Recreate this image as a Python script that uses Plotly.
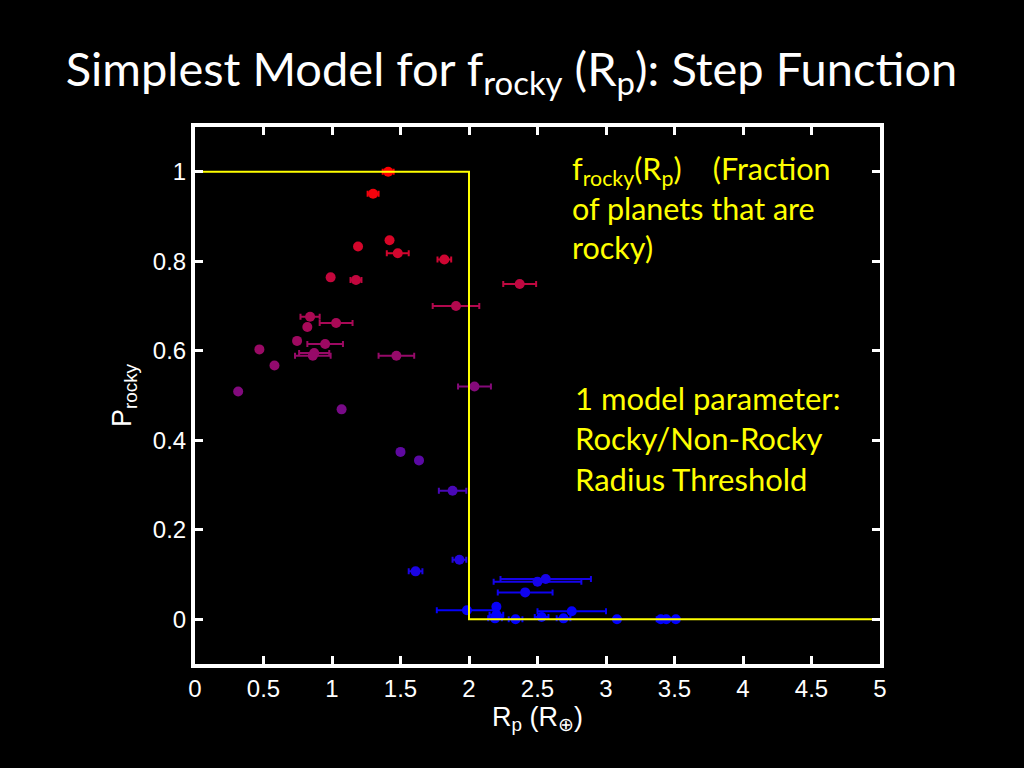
import plotly.graph_objects as go

# Planet radius (Earth radii), probability rocky, horizontal error
radius = [1.41, 1.30, 1.19, 1.42, 1.48, 1.82, 0.99, 1.175, 1.905, 2.37,
          0.84, 1.03, 0.82, 0.745, 0.95, 0.47, 0.87, 0.86, 1.47, 0.58,
          0.315, 2.04, 1.07, 1.50, 1.635, 1.88, 1.93, 1.61, 2.56, 2.50,
          2.41, 1.985, 2.20, 2.75, 2.20, 2.19, 2.34, 2.53, 2.69, 3.08,
          3.40, 3.44, 3.51]
p_rocky = [1.00, 0.951, 0.833, 0.847, 0.818, 0.804, 0.764, 0.758, 0.700, 0.749,
           0.676, 0.662, 0.653, 0.622, 0.615, 0.603, 0.595, 0.589, 0.589, 0.567,
           0.509, 0.520, 0.469, 0.374, 0.355, 0.287, 0.133, 0.107, 0.090, 0.084,
           0.060, 0.020, 0.028, 0.018, 0.010, 0.002, 0.000, 0.005, 0.002, 0.000,
           0.000, 0.000, 0.000]
radius_err = [0.04, 0.04, 0.0, 0.0, 0.08, 0.05, 0.0, 0.04, 0.17, 0.12,
              0.07, 0.12, 0.0, 0.0, 0.13, 0.0, 0.11, 0.13, 0.13, 0.0,
              0.0, 0.12, 0.0, 0.0, 0.02, 0.10, 0.05, 0.05, 0.33, 0.32,
              0.20, 0.22, 0.02, 0.25, 0.05, 0.05, 0.05, 0.05, 0.05, 0.0,
              0.03, 0.0, 0.0]

step_x = [0, 2, 2, 5]
step_y = [1, 1, 0, 0]

x_ticks = [0, 0.5, 1, 1.5, 2, 2.5, 3, 3.5, 4, 4.5, 5]
x_tick_labels = ["0", "0.5", "1", "1.5", "2", "2.5", "3", "3.5", "4", "4.5", "5"]
y_ticks = [0, 0.2, 0.4, 0.6, 0.8, 1]
y_tick_labels = ["0", "0.2", "0.4", "0.6", "0.8", "1"]

fig = go.Figure()

for x, p, e in zip(radius, p_rocky, radius_err):
    col = "rgb(%d,%d,%d)" % (round(255 * p), round(10 * (1 - p) * p * 4), round(255 * (1 - p)))
    fig.add_trace(go.Scatter(
        x=[x], y=[p], mode="markers",
        marker=dict(color=col, size=10, line=dict(width=0)),
        error_x=dict(type="data", array=[e], visible=e > 0, color=col,
                     thickness=2, width=3),
        showlegend=False, hoverinfo="skip"))

fig.add_trace(go.Scatter(x=step_x, y=step_y, mode="lines",
                         line=dict(color="#ffff00", width=2),
                         showlegend=False, hoverinfo="skip"))

tick_font = dict(family="Liberation Sans Narrow, Arial Narrow, Liberation Sans",
                 size=24, color="white")
label_font = dict(family="Liberation Sans Narrow, Arial Narrow, Liberation Sans",
                  size=27, color="white")
text_font = "Lato, Open Sans, sans-serif"

fig.update_layout(
    width=1024, height=768,
    paper_bgcolor="black", plot_bgcolor="black",
    margin=dict(l=195, r=144, t=127, b=104),
    title=dict(text="Simplest Model for f<sub>rocky</sub> (R<sub>p</sub>): Step Function",
               x=(68 + 955) / 2 / 1024, xanchor="center", y=0.91, yanchor="middle",
               font=dict(family=text_font, size=47, color="white")),
    xaxis=dict(range=[0, 5], tickvals=x_ticks, ticktext=x_tick_labels,
               showgrid=False, zeroline=False, showline=True, linecolor="white",
               linewidth=4, mirror="allticks", ticks="inside", ticklen=8,
               tickwidth=3, tickcolor="white", tickfont=tick_font,
               title=dict(text="R<sub>p</sub> (R<sub>⊕</sub>)", font=label_font, standoff=0)),
    yaxis=dict(range=[-0.1, 1.1], tickvals=y_ticks, ticktext=y_tick_labels,
               showgrid=False, zeroline=False, showline=True, linecolor="white",
               linewidth=4, mirror="allticks", ticks="inside", ticklen=8,
               tickwidth=3, tickcolor="white", tickfont=tick_font,
               title=dict(text="P<sub>rocky</sub>", font=label_font, standoff=14)),
    annotations=[
        dict(text="f<sub>rocky</sub>(R<sub>p</sub>)    (Fraction<br>of planets that are<br>rocky)",
             xref="paper", yref="paper", x=(570 - 195) / 685, y=(664 - 148) / 537,
             xanchor="left", yanchor="top", align="left", showarrow=False,
             font=dict(family=text_font, size=30.5, color="#ffff00")),
        dict(text="1 model parameter:<br>Rocky/Non-Rocky<br>Radius Threshold",
             xref="paper", yref="paper", x=(573 - 195) / 685, y=(664 - 377) / 537,
             xanchor="left", yanchor="top", align="left", showarrow=False,
             font=dict(family=text_font, size=31, color="#ffff00")),
    ],
)

fig.write_html("out.html",
               config={"displayModeBar": False},
               post_script="document.body.style.margin='0';"
                           "document.body.style.background='black';")
